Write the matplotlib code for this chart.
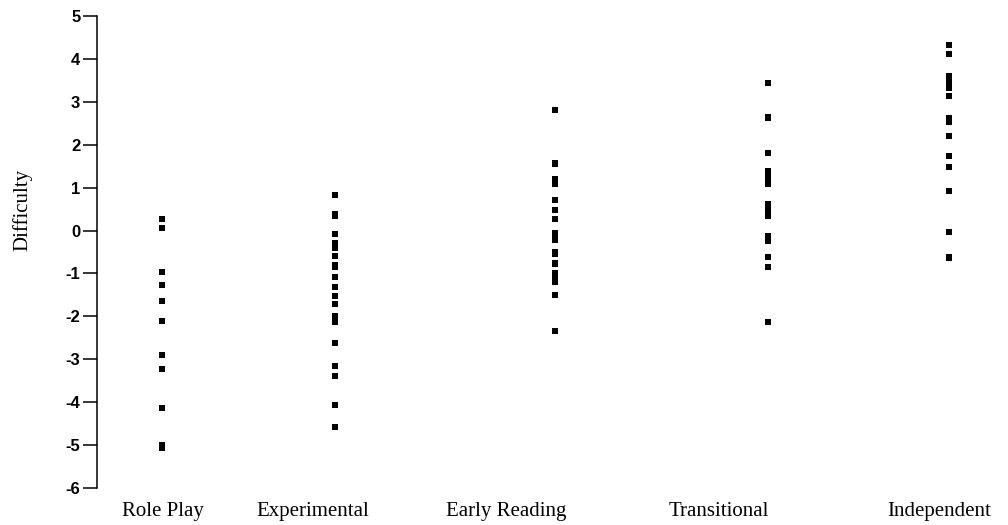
import matplotlib
matplotlib.use("Agg")
import matplotlib.pyplot as plt

# stages of writing development (x axis) and item difficulties (y axis)
stages = ["Role Play", "Experimental", "Early Reading", "Transitional", "Independent"]

role_play = [0.27, 0.06, -0.96, -1.28, -1.65, -2.10, -2.90, -3.22, -4.14, -5.00, -5.06]
experimental = [0.83, 0.38, 0.34, -0.09, -0.29, -0.35, -0.40, -0.59, -0.81, -0.85,
                -1.08, -1.32, -1.53, -1.72, -1.99, -2.06, -2.14, -2.62,
                -3.15, -3.40, -4.07, -4.57]
early_reading = [2.80, 1.58, 1.55, 1.20, 1.14, 1.08, 0.71, 0.48, 0.28, -0.05, -0.11,
                 -0.17, -0.23, -0.50, -0.55, -0.76, -0.79, -0.98, -1.04, -1.10, -1.16,
                 -1.21, -1.50, -2.34]
transitional = [3.45, 2.65, 2.62, 1.80, 1.39, 1.32, 1.25, 1.18, 1.12, 1.08, 0.62, 0.55,
                0.48, 0.41, 0.34, -0.12, -0.18, -0.24, -0.61, -0.84, -2.13]
independent = [4.32, 4.11, 3.61, 3.54, 3.47, 3.40, 3.33, 3.13, 2.63, 2.57, 2.52, 2.20,
               1.74, 1.49, 0.93, -0.03, -0.61, -0.65]

groups = [role_play, experimental, early_reading, transitional, independent]

# layout: where each column of dots sits, and where its label sits (axes fraction)
dot_x = [0.0714, 0.261, 0.503, 0.737, 0.935]
label_x = [0.0725, 0.237, 0.449, 0.683, 0.924]

SERIF = ["Liberation Serif", "DejaVu Serif"]

fig = plt.figure(figsize=(10.08, 5.25), dpi=100)
ax = fig.add_axes([0.0962, 0.0705, 0.9038, 0.899])

for xpos, vals in zip(dot_x, groups):
    ax.plot([xpos] * len(vals), vals, "s", color="black", markersize=3.8,
            markeredgewidth=0, linestyle="none")

ax.set_xlim(0, 1)
ax.set_ylim(-6, 5)
ax.set_yticks(range(-6, 6))
ax.set_yticklabels([str(v) for v in range(-6, 6)], fontsize=12, fontweight="bold",
                   family=["Liberation Sans", "DejaVu Sans"])
ax.tick_params(axis="y", length=10, width=1.1, pad=2, direction="out")

ax.set_xticks(label_x)
ax.set_xticklabels(stages, fontsize=15, family=SERIF)
ax.tick_params(axis="x", length=0, pad=10)

for side in ["top", "right", "bottom"]:
    ax.spines[side].set_visible(False)
ax.spines["left"].set_linewidth(1.1)

fig.text(0.022, 0.60, "Difficulty", rotation=90, ha="center", va="center",
         fontsize=15, family=SERIF)

fig.savefig("out.png", dpi=100, facecolor="white")
